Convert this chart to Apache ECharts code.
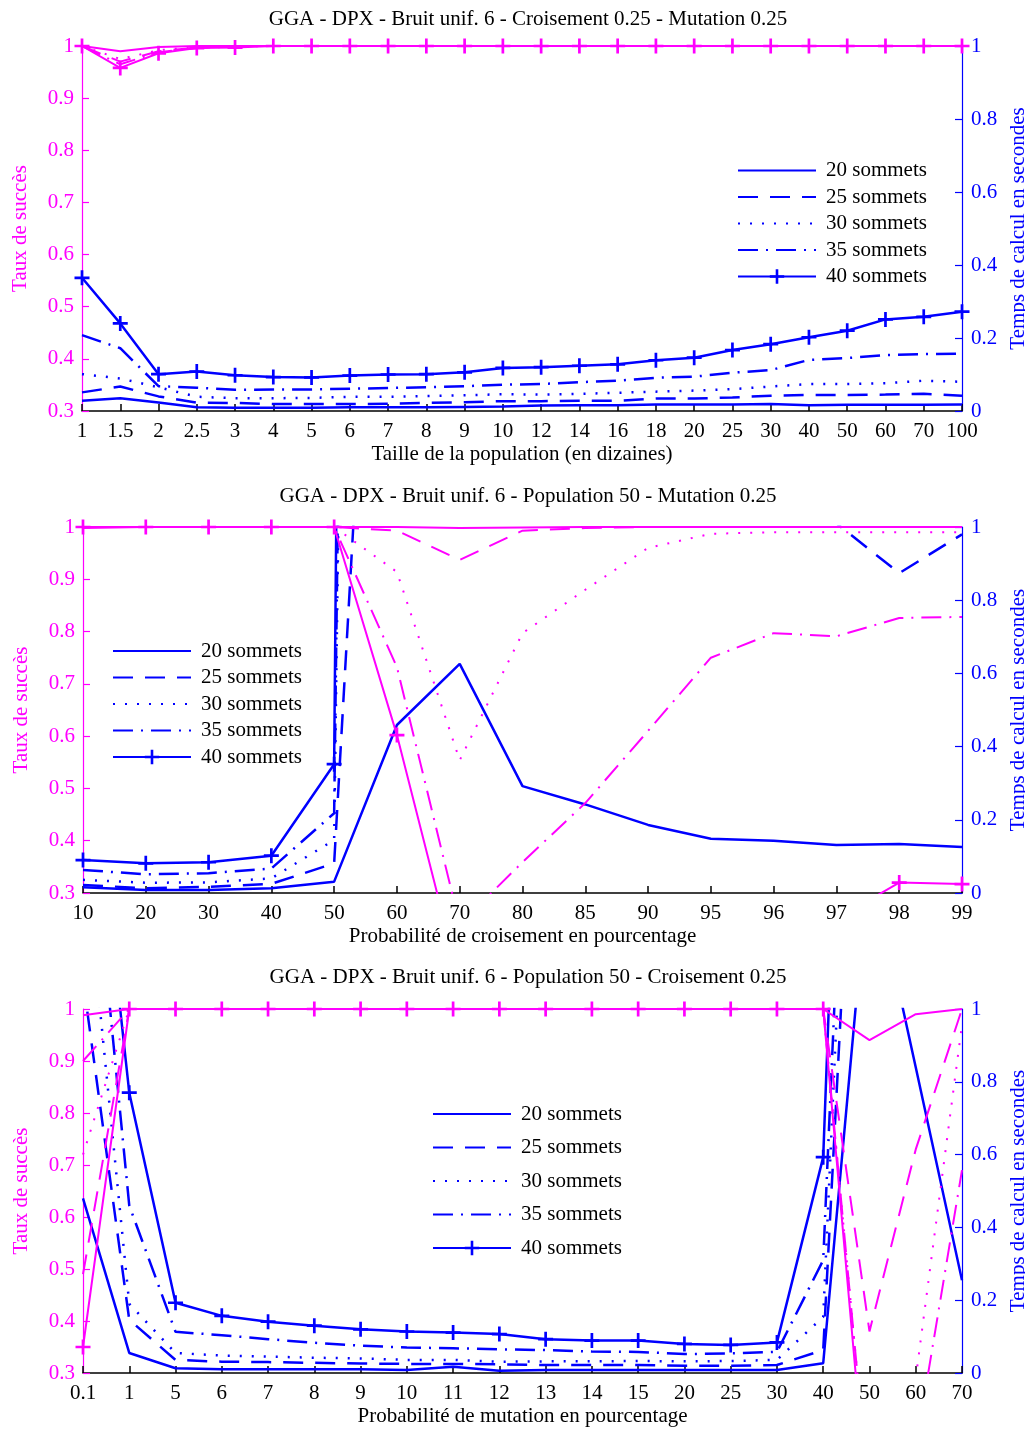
<!DOCTYPE html>
<html><head><meta charset="utf-8">
<script src="https://cdn.jsdelivr.net/npm/echarts@6/dist/echarts.min.js"></script>
<style>html,body{margin:0;padding:0;background:#fff}#c{width:1025px;height:1429px}</style>
</head><body><div id="c"></div>
<script>
// Series labels (number of vertices)
const sizeNames = ['20 sommets', '25 sommets', '30 sommets', '35 sommets', '40 sommets'];

// ---- Panel 1 : population size ----
const popCats = ['1','1.5','2','2.5','3','4','5','6','7','8','9','10','12','14','16','18','20','25','30','40','50','60','70','100'];
const popSucc20 = [1,0.99,0.998,1,1,1,1,1,1,1,1,1,1,1,1,1,1,1,1,1,1,1,1,1];
const popSucc25 = [1,0.97,0.99,0.997,1,1,1,1,1,1,1,1,1,1,1,1,1,1,1,1,1,1,1,1];
const popSucc30 = [1,0.975,0.992,0.998,1,1,1,1,1,1,1,1,1,1,1,1,1,1,1,1,1,1,1,1];
const popSucc35 = [1,0.965,0.988,0.996,0.999,1,1,1,1,1,1,1,1,1,1,1,1,1,1,1,1,1,1,1];
const popSucc40 = [1,0.958,0.986,0.996,0.997,1,1,1,1,1,1,1,1,1,1,1,1,1,1,1,1,1,1,1];
const popTime20 = [0.028,0.035,0.023,0.010,0.009,0.009,0.009,0.010,0.010,0.010,0.011,0.012,0.015,0.016,0.016,0.018,0.018,0.018,0.019,0.016,0.017,0.017,0.017,0.018];
const popTime25 = [0.051,0.067,0.040,0.023,0.022,0.019,0.019,0.019,0.020,0.022,0.024,0.027,0.027,0.028,0.028,0.034,0.034,0.037,0.042,0.044,0.044,0.045,0.047,0.042];
const popTime30 = [0.101,0.089,0.065,0.039,0.035,0.035,0.036,0.039,0.039,0.041,0.043,0.046,0.045,0.047,0.050,0.053,0.056,0.060,0.067,0.074,0.074,0.076,0.083,0.080];
const popTime35 = [0.208,0.172,0.068,0.064,0.058,0.059,0.059,0.061,0.063,0.065,0.068,0.072,0.074,0.079,0.083,0.091,0.094,0.105,0.112,0.140,0.145,0.153,0.156,0.157];
const popTime40 = [0.365,0.240,0.101,0.108,0.098,0.093,0.092,0.097,0.100,0.101,0.106,0.118,0.120,0.124,0.128,0.139,0.146,0.167,0.183,0.202,0.220,0.251,0.258,0.272];

// ---- Panel 2 : crossover probability ----
const crossCats = ['10','20','30','40','50','60','70','80','85','90','95','96','97','98','99'];
const crossSucc20 = [0.998,1,1,1,1,1,0.998,0.999,1,1,1,1,1,1,1];
const crossSucc25 = [1,1,1,1,1,0.993,0.937,0.993,0.998,1,1,1,1,1,1];
const crossSucc30 = [1,1,1,1,1,0.914,0.554,0.797,0.88,0.96,0.987,0.99,0.99,0.99,0.99];
const crossSucc35 = [1,1,1,1,1,0.732,0.24,0.359,0.472,0.61,0.75,0.797,0.791,0.826,0.828];
const crossSucc40 = [1,1,1,1,1,0.602,0.13,0.10,0.12,0.15,0.18,0.20,0.25,0.32,0.317];
const crossTime20 = [0.016,0.008,0.008,0.013,0.031,0.459,0.626,0.292,0.242,0.186,0.148,0.143,0.131,0.134,0.126];
const crossTime25 = [0.022,0.013,0.017,0.025,0.081,3.1,2.6,2.2,1.9,1.7,1.5,1.3,1.01,0.874,0.98];
const crossTime30 = [0.036,0.028,0.029,0.040,0.145,13,12,10,9,8,7,7,6,6,6];
const crossTime35 = [0.063,0.051,0.054,0.067,0.218,14,12,11,10,9,8,8,7,7,7];
const crossTime40 = [0.090,0.081,0.084,0.102,0.352,20,18,16,15,14,13,12,12,12,12];

// ---- Panel 3 : mutation probability ----
const mutCats = ['0.1','1','5','6','7','8','9','10','11','12','13','14','15','20','25','30','40','50','60','70'];
const mutSucc20 = [0.988,1,1,1,1,1,1,1,1,1,1,1,1,1,1,1,1,0.94,0.99,1];
const mutSucc25 = [0.49,1,1,1,1,1,1,1,1,1,1,1,1,1,1,1,1,0.38,0.73,1];
const mutSucc30 = [0.72,1,1,1,1,1,1,1,1,1,1,1,1,1,1,1,1,0.05,0.29,0.97];
const mutSucc35 = [0.9,1,1,1,1,1,1,1,1,1,1,1,1,1,1,1,1,0.05,0.156,0.69];
const mutSucc40 = [0.35,1,1,1,1,1,1,1,1,1,1,1,1,1,1,1,1,0.0,0.0,0.0];
const mutTime20 = [0.48,0.055,0.013,0.010,0.010,0.010,0.010,0.008,0.017,0.006,0.008,0.008,0.008,0.008,0.008,0.008,0.027,1.42,0.84,0.255];
const mutTime25 = [1.08,0.146,0.036,0.031,0.030,0.028,0.026,0.025,0.025,0.024,0.022,0.022,0.022,0.020,0.020,0.022,0.063,2.5,2.2,2.0];
const mutTime30 = [1.47,0.19,0.055,0.048,0.045,0.042,0.040,0.036,0.036,0.031,0.032,0.032,0.033,0.032,0.033,0.036,0.154,3,2.8,2.6];
const mutTime35 = [1.76,0.46,0.113,0.104,0.093,0.083,0.075,0.070,0.068,0.065,0.063,0.059,0.058,0.052,0.054,0.058,0.31,3.2,3,2.8];
const mutTime40 = [1.94,0.77,0.193,0.157,0.141,0.130,0.120,0.114,0.111,0.107,0.093,0.089,0.089,0.080,0.077,0.084,0.593,4,3.8,3.5];

const panels = [
  { title: 'GGA - DPX - Bruit unif. 6 - Croisement 0.25 - Mutation 0.25',
    xName: 'Taille de la population (en dizaines)', cats: popCats,
    succ: [popSucc20, popSucc25, popSucc30, popSucc35, popSucc40],
    time: [popTime20, popTime25, popTime30, popTime35, popTime40],
    titleTop: 4, grid: { left: 82, top: 46, height: 365 },
    legend: { left: 737, top: 160, itemGap: 5.5 } },
  { title: 'GGA - DPX - Bruit unif. 6 - Population 50 - Mutation 0.25',
    xName: 'Probabilité de croisement en pourcentage', cats: crossCats,
    succ: [crossSucc20, crossSucc25, crossSucc30, crossSucc35, crossSucc40],
    time: [crossTime20, crossTime25, crossTime30, crossTime35, crossTime40],
    titleTop: 481, grid: { left: 83, top: 527, height: 366 },
    legend: { left: 112, top: 640.5, itemGap: 5.5 } },
  { title: 'GGA - DPX - Bruit unif. 6 - Population 50 - Croisement 0.25',
    xName: 'Probabilité de mutation en pourcentage', cats: mutCats,
    succ: [mutSucc20, mutSucc25, mutSucc30, mutSucc35, mutSucc40],
    time: [mutTime20, mutTime25, mutTime30, mutTime35, mutTime40],
    titleTop: 962, grid: { left: 83, top: 1009, height: 364 },
    legend: { left: 432, top: 1103.5, itemGap: 12.5 } }
];

const MAG = '#ff00ff', BLUE = '#0000ff';
const FONT = 'Liberation Serif';
const FS = 21;
// line dash for each vertex count: solid, dashed, dotted, dash-dot, solid + crosses
const dashes = ['solid', [20, 12], [2, 10], [20, 8, 2, 8], 'solid'];
const PLUS = 'path://M-1.8,-10H1.8V-1.8H10V1.8H1.8V10H-1.8V1.8H-10V-1.8H-1.8Z';
const NO_MARK = { color: 'rgba(0,0,0,0)', borderWidth: 0 };

const option = { animation: false, title: [], grid: [], xAxis: [], yAxis: [], legend: [], series: [] };

panels.forEach((p, i) => {
  option.title.push({ text: p.title, left: 523, top: p.titleTop, textAlign: 'center',
    textStyle: { fontFamily: FONT, fontSize: FS, fontWeight: 'normal', color: '#000' } });
  option.grid.push({ left: p.grid.left, right: 63, top: p.grid.top, height: p.grid.height,
    outerBoundsMode: 'none', containLabel: false });
  option.xAxis.push({ type: 'category', gridIndex: i, data: p.cats, boundaryGap: false,
    name: p.xName, nameLocation: 'middle', nameGap: 33,
    nameTextStyle: { fontFamily: FONT, fontSize: FS, color: '#000' },
    axisLine: { lineStyle: { color: '#000', width: 1.5 } },
    axisTick: { inside: true, length: 7, interval: 0, lineStyle: { color: '#000', width: 1.5 } },
    axisLabel: { interval: 0, margin: 10, fontFamily: FONT, fontSize: FS, color: '#000' },
    splitLine: { show: false } });
  option.yAxis.push({ type: 'value', gridIndex: i, position: 'left', min: 0.3, max: 1, interval: 0.1,
    name: 'Taux de succès', nameLocation: 'middle', nameGap: 51,
    nameTextStyle: { fontFamily: FONT, fontSize: FS, color: MAG },
    axisLine: { show: true, lineStyle: { color: MAG, width: 1.2 } },
    axisTick: { show: true, inside: true, length: 7, lineStyle: { color: MAG, width: 1.2 } },
    axisLabel: { margin: 8, fontFamily: FONT, fontSize: FS, color: MAG,
      formatter: v => String(Math.round(v * 10) / 10) },
    splitLine: { show: false } });
  option.yAxis.push({ type: 'value', gridIndex: i, position: 'right', min: 0, max: 1, interval: 0.2,
    name: 'Temps de calcul en secondes', nameLocation: 'middle', nameGap: 39,
    nameTextStyle: { fontFamily: FONT, fontSize: FS, color: BLUE },
    axisLine: { show: true, lineStyle: { color: BLUE, width: 1.2 } },
    axisTick: { show: true, inside: true, length: 7, lineStyle: { color: BLUE, width: 1.2 } },
    axisLabel: { margin: 9, fontFamily: FONT, fontSize: FS, color: BLUE,
      formatter: v => String(Math.round(v * 10) / 10) },
    splitLine: { show: false } });
  option.legend.push({ orient: 'vertical', left: p.legend.left, top: p.legend.top, padding: 0,
    itemGap: p.legend.itemGap, itemWidth: 78, itemHeight: 18, selectedMode: false,
    data: sizeNames.map((n, k) => k < 4 ? { name: n, itemStyle: NO_MARK } : n),
    textStyle: { fontFamily: FONT, fontSize: FS, color: '#000', padding: [0, 0, 0, 5] } });

  // computing time (right axis, blue)
  p.time.forEach((arr, k) => {
    option.series.push({ type: 'line', name: sizeNames[k], xAxisIndex: i, yAxisIndex: 2 * i + 1,
      data: arr, clip: true, z: 2,
      symbol: k === 4 ? PLUS : 'none', symbolSize: 15, showSymbol: k === 4,
      itemStyle: { color: BLUE },
      lineStyle: { color: BLUE, width: 2.5, type: dashes[k] } });
  });
  // success rate (left axis, magenta)
  p.succ.forEach((arr, k) => {
    option.series.push({ type: 'line', name: 'succès ' + sizeNames[k], xAxisIndex: i, yAxisIndex: 2 * i,
      data: arr, clip: true, z: 3,
      symbol: k === 4 ? PLUS : 'none', symbolSize: 15, showSymbol: k === 4,
      itemStyle: { color: MAG },
      lineStyle: { color: MAG, width: 2, type: dashes[k] } });
  });
});

const chart = echarts.init(document.getElementById('c'), null, { renderer: 'canvas' });
chart.setOption(option);
</script>
</body></html>
